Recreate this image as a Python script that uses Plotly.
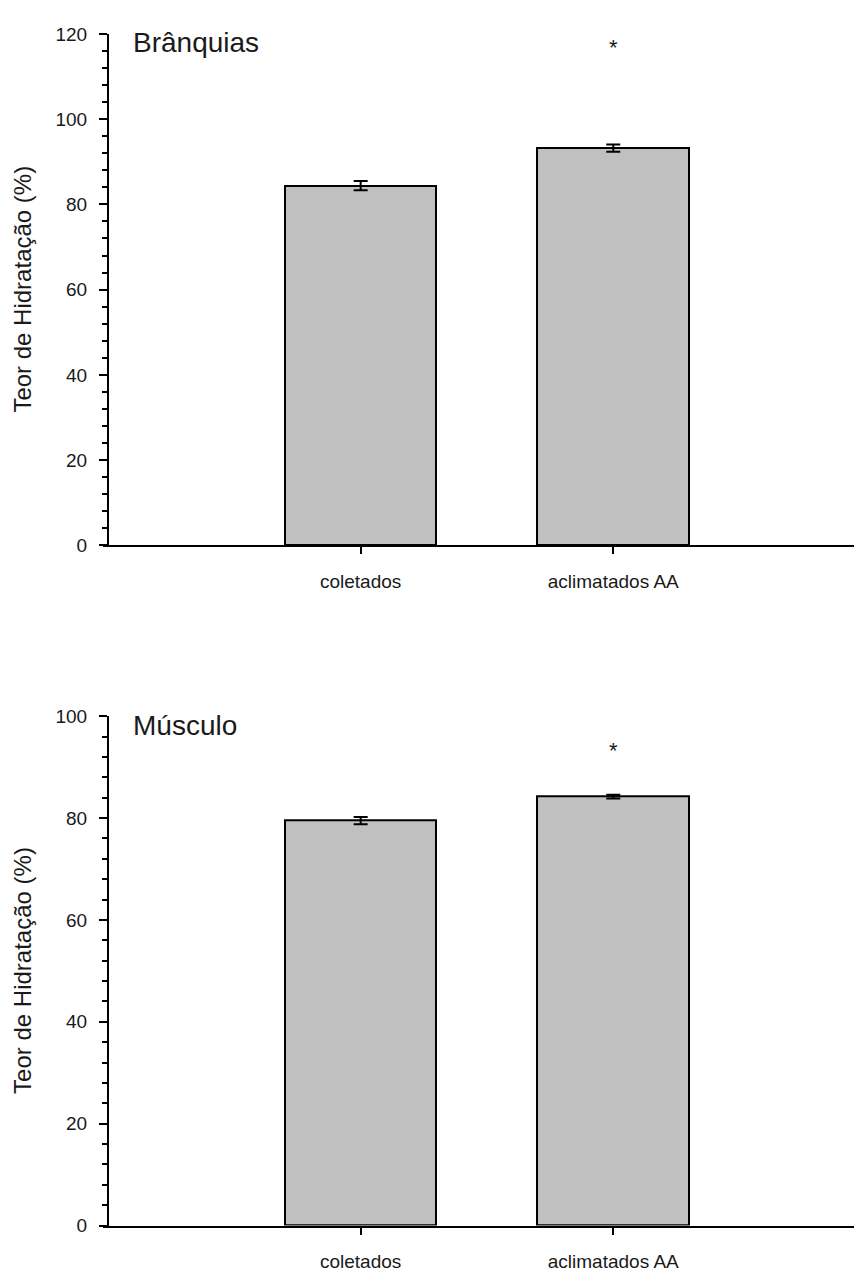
import plotly.graph_objects as go

# Categories and group means / standard errors (teor de hidratação, %)
categorias = ["coletados", "aclimatados AA"]

branquias_media = [84.4, 93.2]
branquias_erro = [1.1, 0.85]

musculo_media = [79.5, 84.2]
musculo_erro = [0.7, 0.35]

# Height at which the significance asterisk is written (per category)
branquias_signif = [None, 117.8]
musculo_signif = [None, 94.0]

# Y-axis tick values
branquias_ticks = [0, 20, 40, 60, 80, 100, 120]
musculo_ticks = [0, 20, 40, 60, 80, 100]

FONT = "Arial, Liberation Sans, sans-serif"
BAR_FILL = "#c0c0c0"
INK = "#000000"
TXT = "#1a1a1a"

W, H = 854, 1273


def px_to_paper_y(py):
    return 1 - py / H


top_dom = [px_to_paper_y(544.3), px_to_paper_y(24.3)]
bot_dom = [px_to_paper_y(1236), px_to_paper_y(718)]
x_dom = [103 / W, 1.0]
y_axis_pos = 108 / W

fig = go.Figure()

for medias, erros, xa, ya in [
    (branquias_media, branquias_erro, "x", "y"),
    (musculo_media, musculo_erro, "x2", "y2"),
]:
    fig.add_trace(go.Bar(
        x=categorias, y=medias, width=0.6,
        marker=dict(color=BAR_FILL, line=dict(color=INK, width=2)),
        error_y=dict(type="data", array=erros, visible=True,
                     color=INK, thickness=2, width=7),
        xaxis=xa, yaxis=ya, showlegend=False,
    ))

xaxis_common = dict(
    domain=x_dom, range=[-1.02, 1.953], type="category",
    showline=True, linecolor=INK, linewidth=2,
    ticks="outside", ticklen=7, tickwidth=2, tickcolor=INK,
    ticklabelstandoff=11,
    showgrid=False, zeroline=False,
    tickfont=dict(family=FONT, size=19, color=TXT),
)


def yaxis_common(rng, vals, dom):
    return dict(
        domain=dom, range=rng, anchor="free", position=y_axis_pos,
        tickvals=vals,
        showline=True, linecolor=INK, linewidth=2,
        ticks="outside", ticklen=8, tickwidth=2, tickcolor=INK,
        minor=dict(ticks="outside", ticklen=5, tickwidth=2, tickcolor=INK, dtick=4),
        ticklabelstandoff=8,
        showgrid=False, zeroline=False,
        tickfont=dict(family=FONT, size=19, color=TXT),
    )


annotations = []
for titulo, dom, signif, yref in [
    ("Brânquias", top_dom, branquias_signif, "y"),
    ("Músculo", bot_dom, musculo_signif, "y2"),
]:
    top_px = (1 - dom[1]) * H
    annotations.append(dict(
        text=titulo, xref="paper", yref="paper",
        x=131 / W, y=px_to_paper_y(top_px + 9), xanchor="left", yanchor="middle",
        showarrow=False, font=dict(family=FONT, size=28, color=TXT),
    ))
    annotations.append(dict(
        text="Teor de Hidratação (%)", xref="paper", yref="paper",
        x=23 / W, y=(dom[0] + dom[1]) / 2, xanchor="center", yanchor="middle",
        textangle=-90, showarrow=False, font=dict(family=FONT, size=24, color=TXT),
    ))
    for cat, h in zip(categorias, signif):
        if h is None:
            continue
        annotations.append(dict(
            text="*", xref=yref.replace("y", "x"), yref=yref,
            x=cat, y=h, xanchor="center", yanchor="middle", yshift=-4,
            showarrow=False, font=dict(family=FONT, size=22, color=TXT),
        ))

fig.update_layout(
    width=W, height=H,
    margin=dict(l=0, r=0, t=0, b=0),
    paper_bgcolor="white", plot_bgcolor="white",
    xaxis=dict(**xaxis_common, anchor="y"),
    yaxis=yaxis_common([0, 120], branquias_ticks, top_dom),
    xaxis2=dict(**xaxis_common, anchor="y2"),
    yaxis2=yaxis_common([0, 100], musculo_ticks, bot_dom),
    annotations=annotations,
    bargap=0,
)

fig.write_html("out.html")
